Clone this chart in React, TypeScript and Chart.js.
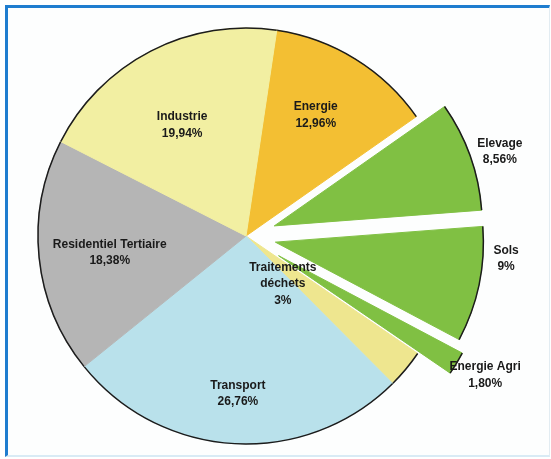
import React, { useEffect, useRef } from "react";
import { Chart, registerables } from "chart.js";

Chart.register(...registerables);

// ---- data ----
const categories = [
  "Energie",
  "Elevage",
  "Sols",
  "Energie Agri",
  "Traitements déchets",
  "Transport",
  "Residentiel Tertiaire",
  "Industrie",
];
const nameLines = [
  ["Energie"],
  ["Elevage"],
  ["Sols"],
  ["Energie Agri"],
  ["Traitements", "déchets"],
  ["Transport"],
  ["Residentiel Tertiaire"],
  ["Industrie"],
];
const values = [12.96, 8.56, 9, 1.8, 3, 26.76, 18.38, 19.94];
const valueLabels = ["12,96%", "8,56%", "9%", "1,80%", "3%", "26,76%", "18,38%", "19,94%"];

// ---- styles ----
const colors = [
  "#f3bf33",
  "#80c043",
  "#80c043",
  "#80c043",
  "#eee68f",
  "#b9e1eb",
  "#b5b5b5",
  "#f2efa2",
];
const explode = [0, 30, 30, 38, 0, 0, 0, 0];
const labelRadius = [0.67, 1.286, 1.255, 1.33, 0.29, 0.76, 0.66, 0.615];
const labelAngleShift = [-1.7, 1.3, -6.8, -1, 12.6, -0.2, -1.1, -2.7];

const explodePlugin = {
  id: "explodeSlices",
  beforeDatasetDraw(chart: any, args: any) {
    const ctx = chart.ctx;
    const meta = args.meta;
    meta.data.forEach((el: any, i: number) => {
      const p = el.getProps(["x", "y", "startAngle", "endAngle", "outerRadius"], true);
      const mid = (p.startAngle + p.endAngle) / 2;
      const e = explode[i] || 0;
      ctx.save();
      ctx.translate(Math.cos(mid) * e, Math.sin(mid) * e);
      el.draw(ctx, chart.chartArea);
      ctx.beginPath();
      ctx.arc(p.x, p.y, p.outerRadius, p.startAngle, p.endAngle);
      ctx.strokeStyle = "#1c1c1c";
      ctx.lineWidth = 1.5;
      ctx.stroke();
      ctx.restore();
    });
    return false;
  },
  afterDatasetsDraw(chart: any) {
    const ctx = chart.ctx;
    const meta = chart.getDatasetMeta(0);
    ctx.save();
    ctx.font = "bold 12px 'Liberation Sans', Arial, sans-serif";
    ctx.fillStyle = "#1a1a1a";
    ctx.textAlign = "center";
    ctx.textBaseline = "middle";
    const lh = 16.5;
    meta.data.forEach((el: any, i: number) => {
      const p = el.getProps(["x", "y", "startAngle", "endAngle", "outerRadius"], true);
      const mid = (p.startAngle + p.endAngle) / 2 + (labelAngleShift[i] * Math.PI) / 180;
      const r = p.outerRadius * labelRadius[i];
      const cx = p.x + Math.cos(mid) * r;
      const cy = p.y + Math.sin(mid) * r;
      const lines = [...nameLines[i], valueLabels[i]];
      const top = cy - ((lines.length - 1) * lh) / 2;
      lines.forEach((t, k) => ctx.fillText(t, cx, top + k * lh));
    });
    ctx.restore();
  },
};

export default function App() {
  const ref = useRef<HTMLCanvasElement | null>(null);
  useEffect(() => {
    if (!ref.current) return;
    const chart = new Chart(ref.current, {
      type: "pie",
      data: {
        labels: categories,
        datasets: [
          {
            data: values,
            backgroundColor: colors,
            borderColor: colors,
            borderWidth: 1,
            radius: 208,
          } as any,
        ],
      },
      options: {
        responsive: false,
        animation: false,
        events: [],
        rotation: 8.5,
        layout: { padding: { left: 0, right: 59, top: 13, bottom: 0 } },
        plugins: {
          legend: { display: false },
          tooltip: { enabled: false },
        },
      },
      plugins: [explodePlugin],
    });
    return () => chart.destroy();
  }, []);

  return (
    <div
      style={{
        position: "fixed",
        left: 0,
        top: 0,
        width: 551,
        height: 459,
        background: "#ffffff",
        overflow: "hidden",
      }}
    >
      <div
        style={{
          position: "absolute",
          left: 5,
          top: 5,
          width: 545,
          height: 452,
          boxSizing: "border-box",
          borderTop: "3px solid #1f7dcf",
          borderLeft: "3px solid #1f7dcf",
          borderRight: "1px solid #e2ecf2",
          borderBottom: "2px solid #d9ebf5",
          background: "#fdfefe",
        }}
      />
      <canvas
        ref={ref}
        width={551}
        height={459}
        style={{ position: "absolute", left: 0, top: 0, width: 551, height: 459 }}
      />
    </div>
  );
}
